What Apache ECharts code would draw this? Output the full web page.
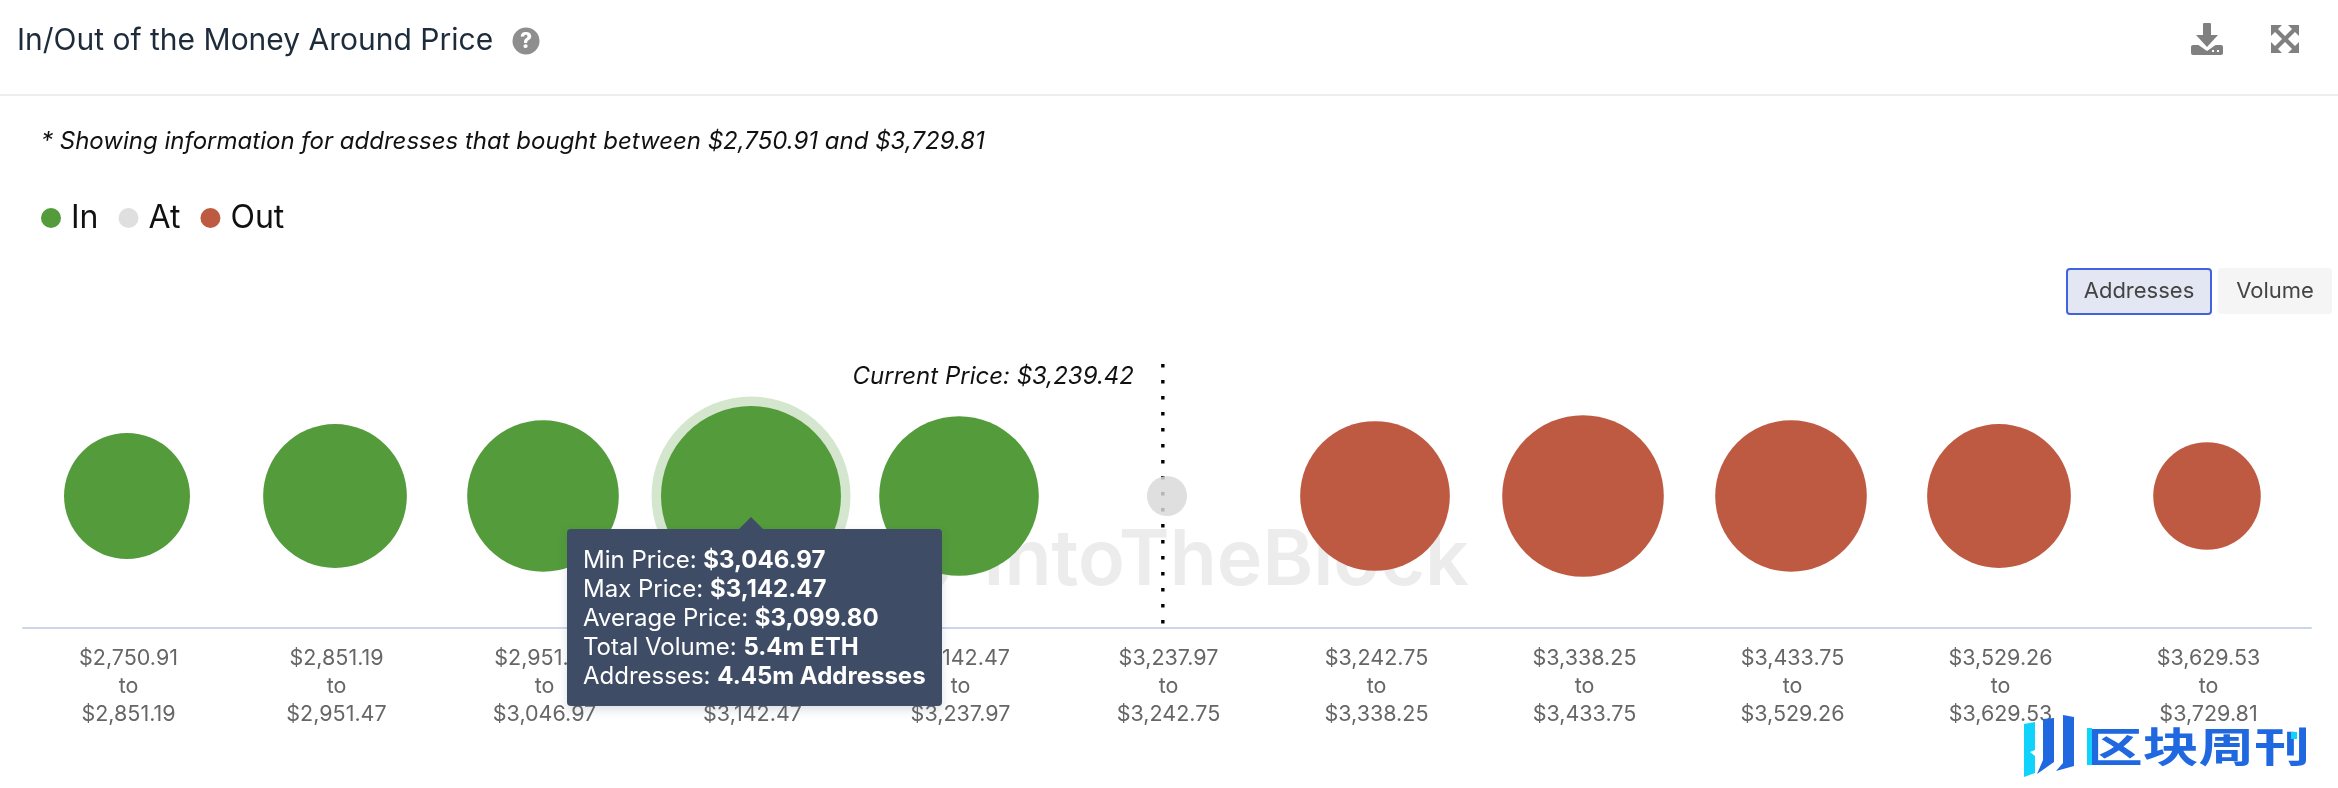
<!DOCTYPE html>
<html>
<head>
<meta charset="utf-8">
<title>In/Out of the Money Around Price</title>
<script src="https://cdn.jsdelivr.net/npm/echarts@6/dist/echarts.min.js"></script>
<style>
  html, body { margin: 0; padding: 0; background: #fff; }
  #chart { width: 2338px; height: 788px; }
</style>
</head>
<body>
<div id="chart"></div>
<script>
var rangeStart = ["$2,750.91", "$2,851.19", "$2,951.47", "$3,046.97", "$3,142.47", "$3,237.97", "$3,242.75", "$3,338.25", "$3,433.75", "$3,529.26", "$3,629.53"];
var rangeEnd = ["$2,851.19", "$2,951.47", "$3,046.97", "$3,142.47", "$3,237.97", "$3,242.75", "$3,338.25", "$3,433.75", "$3,529.26", "$3,629.53", "$3,729.81"];

var inAddresses = [2.18, 2.84, 3.16, 4.45, 3.50];
var atAddresses = [0.22];
var outAddresses = [3.08, 3.59, 3.16, 2.84, 1.59];

var hoveredIndex = 3;
var hoveredAverage = "$3,099.80";
var hoveredVolume = "5.4m ETH";
var hoveredAddresses = "4.45m Addresses";

var currentPriceText = "Current Price: $3,239.42";
var currentPricePos = 5.48; // bins are not equal in width, position on the bin scale

var FONT = "Inter, sans-serif";
var GREEN = "#539b3b";
var RED = "#bf5a42";
var BUBBLE_SCALE = 85.3;

function bubbleSize(d) {
  return BUBBLE_SCALE * Math.sqrt(d[2]);
}

function toPoints(values, offset) {
  return values.map(function(v, i) {
    return [i + offset, 0, v];
  });
}

function text(str, x, y, size, fill, extra) {
  var style = {
    text: str, x: x, y: y, fontSize: size, fontFamily: FONT, fill: fill,
    textAlign: "center", textVerticalAlign: "middle"
  };
  for (var k in extra) style[k] = extra[k];
  return { type: "text", z: 10, style: style };
}

function poly(points, fill, z) {
  return { type: "polygon", z: z || 10, shape: { points: points }, style: { fill: fill } };
}

function box(x, y, w, h, r, fill, stroke) {
  return {
    type: "rect", z: 10,
    shape: { x: x, y: y, width: w, height: h, r: r },
    style: { fill: fill, stroke: stroke || null, lineWidth: stroke ? 2 : 0 }
  };
}

function seg(x1, y1, x2, y2, color, width) {
  return {
    type: "line", z: 10,
    shape: { x1: x1, y1: y1, x2: x2, y2: y2 },
    style: { stroke: color, lineWidth: width }
  };
}

var ICON = "#808080";
var LOGO_BLUE = "#1f68e0";
var LOGO_CYAN = "#0fd3fb";

var watermark = text("IntoTheBlock", 1226, 562, 77, "#ececec", { fontWeight: 600 });
watermark.z = 0;

var decorations = [
  // header
  seg(0, 95, 2338, 95, "#eeeeee", 2),
  { type: "circle", z: 10, shape: { cx: 526, cy: 41, r: 13.5 }, style: { fill: "#8e8e8e" } },
  text("?", 526, 42, 21, "#fff", { fontWeight: 800 }),

  // download icon
  box(2191, 45, 32, 10, 2, ICON),
  poly([[2197, 44], [2207, 51], [2217, 44]], "#fff"),
  box(2203, 23, 8, 14, 1, ICON),
  poly([[2196, 35], [2218, 35], [2207, 47]], ICON),
  box(2212, 50, 2, 2, 0, "#fff"),
  box(2217, 50, 2, 2, 0, "#fff"),

  // fullscreen icon
  seg(2275, 29, 2295, 49, ICON, 4),
  seg(2295, 29, 2275, 49, ICON, 4),
  poly([[2271, 25], [2282, 25], [2271, 36]], ICON),
  poly([[2299, 25], [2288, 25], [2299, 36]], ICON),
  poly([[2271, 53], [2282, 53], [2271, 42]], ICON),
  poly([[2299, 53], [2288, 53], [2299, 42]], ICON),

  // metric switch
  box(2067, 269, 144, 45, 3, "#e3e7f3", "#4263de"),
  text("Addresses", 2139, 291.5, 22, "#444"),
  box(2218, 268, 114, 46, 3, "#f5f5f5"),
  text("Volume", 2275, 291.5, 22, "#444"),

  // watermark behind the bubbles
  { type: "circle", z: 0, shape: { cx: 915, cy: 560, r: 32 }, style: { fill: "none", stroke: "#ececec", lineWidth: 10 } },
  watermark,

  // publisher mark, bottom right
  poly([[2024, 724], [2035, 722], [2035, 750], [2030, 752], [2035, 756], [2035, 773], [2024, 777]], LOGO_CYAN),
  poly([[2043, 719], [2054, 718], [2054, 762], [2037, 774], [2043, 760]], LOGO_BLUE),
  poly([[2063, 715], [2074, 717], [2074, 766], [2056, 771], [2063, 763]], LOGO_BLUE),
  {
    type: "text", z: 10, x: 2087, y: 746, scaleX: 1.36, scaleY: 1,
    style: {
      text: "区块周刊", x: 0, y: 0, fontSize: 41, fontWeight: 700,
      fontFamily: "'Noto Sans CJK SC'", fill: LOGO_BLUE,
      textAlign: "left", textVerticalAlign: "middle"
    }
  },
  box(2087, 728, 5, 37, 0, LOGO_CYAN),
  box(2291, 732, 6, 7, 0, LOGO_CYAN)
];

var chart = echarts.init(document.getElementById("chart"));

chart.setOption({
  animation: false,
  backgroundColor: "#fff",
  textStyle: { fontFamily: FONT },
  title: [
    {
      text: "In/Out of the Money Around Price", left: 12, top: 21,
      textStyle: { fontSize: 30, fontWeight: 400, color: "#1d2b3a", fontFamily: FONT }
    },
    {
      text: "* Showing information for addresses that bought between $2,750.91 and $3,729.81", left: 36, top: 125,
      textStyle: { fontSize: 24, fontWeight: 400, fontStyle: "italic", color: "#111", fontFamily: FONT }
    },
    {
      text: currentPriceText, right: 1199, top: 360,
      textStyle: { fontSize: 24, fontWeight: 400, fontStyle: "italic", color: "#111", fontFamily: FONT }
    }
  ],
  legend: {
    left: 41, top: 202,
    padding: 0,
    data: ["In", "At", "Out"],
    icon: "circle",
    itemWidth: 20, itemHeight: 20, itemGap: 20,
    selectedMode: false,
    textStyle: { fontSize: 32, color: "#111", fontFamily: FONT, padding: [0, 0, 0, 5] }
  },
  grid: { left: 23, right: 27, top: 364, bottom: 160 },
  xAxis: [
    {
      type: "category",
      data: rangeStart,
      axisTick: { show: false },
      axisLine: { onZero: false, lineStyle: { color: "#ccd6eb", width: 2 } },
      axisLabel: {
        interval: 0, margin: 17, padding: [0, 0, 0, 3],
        fontSize: 21.5, lineHeight: 28, color: "#666", fontFamily: FONT,
        formatter: function(value, i) {
          return value + "\nto\n" + rangeEnd[i];
        }
      }
    },
    { type: "value", min: 0, max: rangeStart.length, show: false }
  ],
  yAxis: { type: "value", min: -1, max: 1, show: false },
  tooltip: {
    trigger: "item",
    triggerOn: "none",
    alwaysShowContent: true,
    transitionDuration: 0,
    backgroundColor: "#3f4c66",
    borderWidth: 0,
    padding: [16, 16],
    extraCssText: "border-radius:4px;box-shadow:0 4px 10px rgba(63,76,102,.18);overflow:visible;",
    textStyle: { color: "#fff", fontSize: 24, fontFamily: FONT },
    position: function(point) {
      return [point[0] - 184, point[1] + 33];
    },
    formatter: function(p) {
      var i = p.dataIndex;
      function row(label, val) {
        return "<div style='line-height:29px;white-space:nowrap'>" + label + ": <b style='font-weight:700'>" + val + "</b></div>";
      }
      return "<div style='position:absolute;left:172px;top:-12px;width:0;height:0;" +
        "border-left:12px solid transparent;border-right:12px solid transparent;border-bottom:12px solid #3f4c66'></div>" +
        row("Min Price", rangeStart[i]) + row("Max Price", rangeEnd[i]) +
        row("Average Price", hoveredAverage) + row("Total Volume", hoveredVolume) +
        row("Addresses", hoveredAddresses);
    }
  },
  series: [
    {
      name: "Hover",
      type: "scatter",
      z: 1,
      silent: true,
      tooltip: { show: false },
      symbolSize: function(d) { return bubbleSize(d) + 19; },
      itemStyle: { color: GREEN, opacity: 0.25 },
      data: [[hoveredIndex, 0, inAddresses[hoveredIndex]]]
    },
    {
      name: "Current price",
      type: "line",
      xAxisIndex: 1,
      z: 1,
      silent: true,
      showSymbol: false,
      lineStyle: { color: "#000", width: 3.4, type: [3.4, 12.6], cap: "butt" },
      data: [[currentPricePos, 1], [currentPricePos, -1]]
    },
    {
      name: "In", type: "scatter", z: 2,
      symbolSize: bubbleSize,
      itemStyle: { color: GREEN, opacity: 1 },
      data: toPoints(inAddresses, 0)
    },
    {
      name: "At", type: "scatter", z: 2,
      symbolSize: bubbleSize,
      itemStyle: { color: "#d9d9d9", opacity: 0.83 },
      data: toPoints(atAddresses, inAddresses.length)
    },
    {
      name: "Out", type: "scatter", z: 2,
      symbolSize: bubbleSize,
      itemStyle: { color: RED, opacity: 1 },
      data: toPoints(outAddresses, inAddresses.length + atAddresses.length)
    }
  ],
  graphic: decorations
});

// the reference was captured with the fourth bubble hovered
chart.dispatchAction({ type: "showTip", seriesIndex: 2, dataIndex: hoveredIndex });
</script>
</body>
</html>
